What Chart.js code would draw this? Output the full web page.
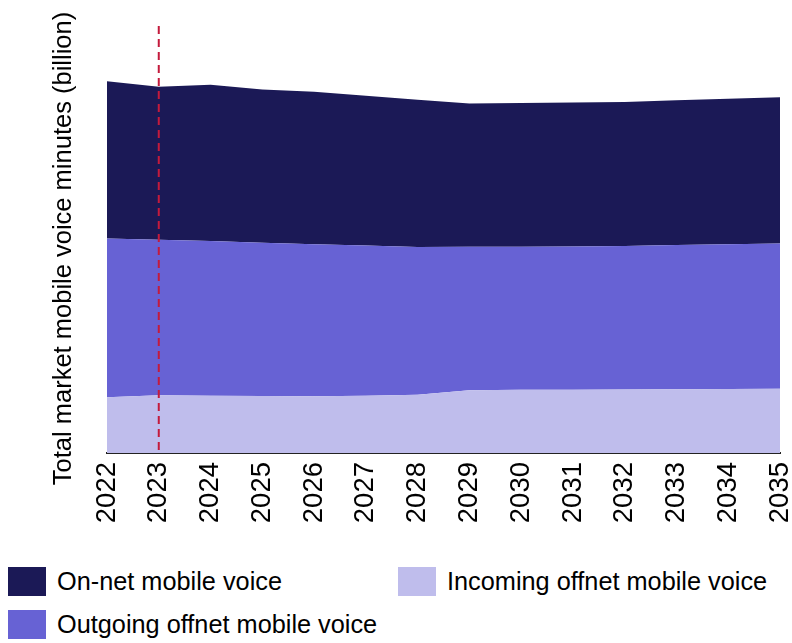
<!DOCTYPE html>
<html>
<head>
<meta charset="utf-8">
<script src="https://cdn.jsdelivr.net/npm/chart.js@4.4.1/dist/chart.umd.min.js"></script>
<style>
  html, body { margin: 0; padding: 0; background: #ffffff; }
  #wrap { position: relative; width: 792px; height: 643px; overflow: hidden; }
  #chartBox { position: absolute; left: 0; top: 0; width: 792px; height: 545px; }
  .leg { position: absolute; display: flex; align-items: center; font-family: "Liberation Sans", Arial, sans-serif; font-size: 25.3px; color: #000; white-space: nowrap; }
  .leg .sw { width: 38px; height: 29px; margin-right: 11px; flex: none; }
</style>
</head>
<body>
<div id="wrap">
  <div id="chartBox"><canvas id="c"></canvas></div>
  <div id="legend"></div>
</div>
<script>
// ---- Data (billion minutes) ----
const years = ["2022","2023","2024","2025","2026","2027","2028","2029","2030","2031","2032","2033","2034","2035"];
const incomingOffnet = [27.85, 28.85, 28.5, 28.4, 28.25, 28.5, 29.0, 31.35, 31.5, 31.6, 31.7, 31.8, 31.9, 32.0];
const outgoingOffnet = [79.15, 77.5, 77.25, 76.45, 75.85, 75.0, 73.75, 71.5, 71.4, 71.4, 71.55, 71.95, 72.2, 72.5];
const onNet = [78.5, 76.3, 77.9, 76.5, 76.15, 74.75, 73.4, 71.5, 71.75, 71.9, 71.85, 72.15, 72.65, 73.0];
const markerYear = "2023";
const seriesNames = ["On-net mobile voice", "Outgoing offnet mobile voice", "Incoming offnet mobile voice"];
const yTitle = "Total market mobile voice minutes (billion)";

const colOnNet = "#1b1956";
const colOut = "#6762d4";
const colIn = "#bfbdec";

const markerPlugin = {
  id: "markerLine",
  afterDatasetsDraw(chart) {
    const x = chart.scales.x.getPixelForValue(years.indexOf(markerYear));
    const ctx = chart.ctx;
    ctx.save();
    ctx.strokeStyle = "#c41a3c";
    ctx.lineWidth = 2;
    ctx.setLineDash([8, 5]);
    ctx.beginPath();
    ctx.moveTo(x, chart.chartArea.top);
    ctx.lineTo(x, chart.chartArea.bottom);
    ctx.stroke();
    ctx.restore();
  }
};

const yTitlePlugin = {
  id: "yTitle",
  afterDraw(chart) {
    const ctx = chart.ctx;
    ctx.save();
    ctx.translate(64, 248.5);
    ctx.rotate(-Math.PI / 2);
    ctx.fillStyle = "#000";
    ctx.font = "25.5px 'Liberation Sans', Arial, sans-serif";
    ctx.textAlign = "center";
    ctx.textBaseline = "middle";
    ctx.fillText(yTitle, 0, 0);
    ctx.restore();
  }
};

const ctx = document.getElementById("c");
new Chart(ctx, {
  type: "line",
  data: {
    labels: years,
    datasets: [
      { label: seriesNames[2], data: incomingOffnet, backgroundColor: colIn, borderColor: colIn, borderWidth: 0, fill: "origin", pointRadius: 0, tension: 0 },
      { label: seriesNames[1], data: outgoingOffnet, backgroundColor: colOut, borderColor: colOut, borderWidth: 0, fill: "-1", pointRadius: 0, tension: 0 },
      { label: seriesNames[0], data: onNet, backgroundColor: colOnNet, borderColor: colOnNet, borderWidth: 0, fill: "-1", pointRadius: 0, tension: 0 }
    ]
  },
  options: {
    responsive: true,
    maintainAspectRatio: false,
    animation: false,
    layout: { padding: { left: 0, right: 12, top: 26, bottom: 0 } },
    plugins: { legend: { display: false }, tooltip: { enabled: false } },
    scales: {
      x: {
        offset: false,
        grid: { display: false, drawTicks: false },
        border: { display: true, color: "#222", width: 2 },
        ticks: { color: "#000", font: { family: "Liberation Sans, Arial, sans-serif", size: 27.5 }, maxRotation: 90, minRotation: 90, padding: 9, autoSkip: false },
        afterFit(scale) { scale.height = 92; scale.paddingLeft = 0; scale.paddingRight = 0; }
      },
      y: {
        stacked: true,
        min: 0,
        max: 213,
        grid: { display: false, drawTicks: false },
        border: { display: false },
        ticks: { display: false },
        title: { display: false },
        afterFit(scale) { scale.width = 107; }
      }
    }
  },
  plugins: [markerPlugin, yTitlePlugin]
});

// HTML legend
const legendItems = [
  { name: seriesNames[0], color: colOnNet, left: 8, top: 567 },
  { name: seriesNames[2], color: colIn, left: 398, top: 567 },
  { name: seriesNames[1], color: colOut, left: 8, top: 610 }
];
const legEl = document.getElementById("legend");
legendItems.forEach(it => {
  const d = document.createElement("div");
  d.className = "leg";
  d.style.left = it.left + "px";
  d.style.top = it.top + "px";
  const sw = document.createElement("span");
  sw.className = "sw";
  sw.style.background = it.color;
  const t = document.createElement("span");
  t.textContent = it.name;
  d.appendChild(sw); d.appendChild(t);
  legEl.appendChild(d);
});
</script>
</body>
</html>
